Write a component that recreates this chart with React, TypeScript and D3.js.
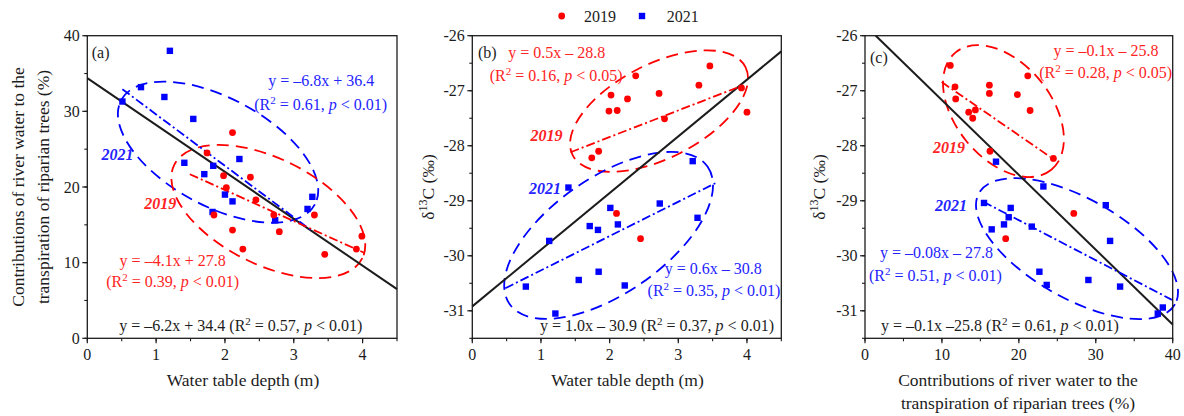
import React from 'react';
import * as d3 from 'd3';

const FONT = '"Liberation Serif", "Times New Roman", Times, serif';
const RED = '#ff0000';
const BLUE = '#0000ff';
const RED_T = '#ff2424';
const BLUE_T = '#2424ff';
const INK = '#1c1c1c';
const W = 1184;
const H = 416;

// ---------- Panel (a): water table depth (m) vs contribution of river water (%)
const aDepth2019 = [2.11, 1.74, 1.98, 2.37, 2.02, 2.45, 1.84, 2.71, 3.30, 2.11, 2.79, 2.26, 3.45, 3.99, 3.91];
const aContrib2019 = [27.2, 24.5, 21.5, 21.3, 19.9, 18.3, 16.3, 16.3, 16.3, 14.3, 14.1, 11.8, 11.1, 13.5, 11.8];
const aDepth2021 = [1.20, 0.78, 1.12, 0.51, 1.54, 1.41, 1.83, 2.21, 1.70, 2.00, 2.11, 1.82, 2.73, 3.27, 3.20];
const aContrib2021 = [38.0, 33.2, 31.9, 31.3, 29.0, 23.2, 22.8, 23.7, 21.7, 19.0, 18.1, 16.7, 15.6, 18.7, 17.1];

// ---------- Panel (b): water table depth (m) vs δ13C (‰)
const bDepth2019 = [2.38, 3.46, 3.30, 2.02, 2.26, 2.72, 1.99, 2.11, 2.80, 3.92, 4.00, 1.84, 1.74, 2.10, 2.45];
const bDelta2019 = [-26.73, -26.55, -26.90, -27.08, -27.15, -27.05, -27.37, -27.36, -27.51, -26.95, -27.39, -28.10, -28.22, -29.23, -29.69];
const bDepth2021 = [1.40, 2.01, 2.73, 1.71, 1.83, 2.12, 3.28, 1.12, 1.55, 1.84, 2.22, 0.78, 1.21, 3.21];
const bDelta2021 = [-28.76, -29.13, -29.05, -29.46, -29.53, -29.43, -29.31, -29.73, -30.44, -30.29, -30.54, -30.56, -31.05, -28.28];

// ---------- Panel (c): contribution of river water (%) vs δ13C (‰)
const cContrib2019 = [11.09, 21.16, 11.70, 16.17, 16.17, 19.81, 11.79, 21.46, 13.48, 14.35, 14.00, 16.25, 24.49, 27.14, 18.29];
const cDelta2019 = [-26.54, -26.73, -26.93, -26.90, -27.05, -27.07, -27.15, -27.36, -27.39, -27.35, -27.50, -28.10, -28.23, -29.23, -29.69];
const cContrib2021 = [23.19, 31.30, 15.47, 18.94, 18.68, 18.07, 21.68, 16.47, 31.86, 22.67, 29.04, 23.62, 33.16, 38.71, 38.06, 17.03];
const cDelta2021 = [-28.74, -29.08, -29.04, -29.13, -29.30, -29.43, -29.47, -29.52, -29.73, -30.29, -30.44, -30.53, -30.56, -30.94, -31.05, -28.29];

// ---------- Axis ticks
const depthTicks = [0, 1, 2, 3, 4];
const contribTicksY = [0, 10, 20, 30, 40];
const contribTicksX = [0, 10, 20, 30, 40];
const deltaTicks = [-26, -27, -28, -29, -30, -31];
const deltaTickLabels = ['-26', '-27', '-28', '-29', '-30', '-31'];

// ---------- Regression lines (slope, intercept, x-range)
const aFits = [
  { group: 'all', slope: -6.2, intercept: 34.4, from: 0, to: 4.5 },
  { group: '2021', slope: -6.8, intercept: 36.4, from: 0.51, to: 3.27 },
  { group: '2019', slope: -4.1, intercept: 27.8, from: 1.49, to: 4.03 },
];
const bFits = [
  { group: 'all', slope: 1.03, intercept: -30.92, from: 0, to: 4.5 },
  { group: '2019', slope: 0.484, intercept: -28.81, from: 1.43, to: 3.95 },
  { group: '2021', slope: 0.624, intercept: -30.89, from: 0.48, to: 3.54 },
];
const cFits = [
  { group: 'all', slope: -0.136, intercept: -25.81, from: 1.4, to: 40 },
  { group: '2019', slope: -0.0965, intercept: -25.88, from: 9.97, to: 24.06 },
  { group: '2021', slope: -0.0727, intercept: -27.90, from: 15.4, to: 39.9 },
];

// ---------- Confidence ellipses (centre in data units)
const aEllipses = [
  { group: '2021', cx: 1.90, cy: 24.6, rx: 110, ry: 54, angle: 28.3 },
  { group: '2019', cx: 2.63, cy: 16.76, rx: 105, ry: 53, angle: 26.4 },
];
const bEllipses = [
  { group: '2019', cx: 2.72, cy: -27.37, rx: 97, ry: 47, angle: -27 },
  { group: '2021', cx: 1.985, cy: -29.63, rx: 120.5, ry: 58, angle: -34.7 },
];
const cEllipses = [
  { group: '2019', cx: 18.0, cy: -27.37, rx: 75.7, ry: 47.7, angle: 50.8 },
  { group: '2021', cx: 27.56, cy: -29.87, rx: 112.7, ry: 49.7, angle: 29.6 },
];

// ---------- Annotations (positions in data units)
type Note = { kind: string; x: number; y: number; group?: string; text?: string; prefix?: string; r2?: string; p?: string };
const aNotes: Note[] = [
  { kind: 'tag', text: '(a)', x: 0.064, y: 37.08 },
  { kind: 'eq', group: '2021', text: 'y = –6.8x + 36.4', x: 3.40, y: 33.32 },
  { kind: 'r2', group: '2021', r2: '0.61', p: '0.01', x: 3.39, y: 30.24 },
  { kind: 'year', group: '2021', text: '2021', x: 0.44, y: 23.63 },
  { kind: 'year', group: '2019', text: '2019', x: 1.06, y: 17.03 },
  { kind: 'eq', group: '2019', text: 'y = –4.1x + 27.8', x: 1.24, y: 9.53 },
  { kind: 'r2', group: '2019', r2: '0.39', p: '0.01', x: 1.24, y: 6.72 },
  { kind: 'r2', group: 'all', prefix: 'y = –6.2x + 34.4 ', r2: '0.57', p: '0.01', x: 2.23, y: 0.94 },
];
const bNotes: Note[] = [
  { kind: 'tag', text: '(b)', x: 0.083, y: -26.40 },
  { kind: 'eq', group: '2019', text: 'y = 0.5x – 28.8', x: 1.23, y: -26.40 },
  { kind: 'r2', group: '2019', r2: '0.16', p: '0.05', x: 1.22, y: -26.83 },
  { kind: 'year', group: '2019', text: '2019', x: 1.08, y: -27.92 },
  { kind: 'year', group: '2021', text: '2021', x: 1.06, y: -28.87 },
  { kind: 'eq', group: '2021', text: 'y = 0.6x – 30.8', x: 3.51, y: -30.34 },
  { kind: 'r2', group: '2021', r2: '0.35', p: '0.01', x: 3.52, y: -30.74 },
  { kind: 'r2', group: 'all', prefix: 'y = 1.0x – 30.9 ', r2: '0.37', p: '0.01', x: 2.69, y: -31.37 },
];
const cNotes: Note[] = [
  { kind: 'tag', text: '(c)', x: 0.65, y: -26.49 },
  { kind: 'eq', group: '2019', text: 'y = –0.1x – 25.8', x: 31.33, y: -26.37 },
  { kind: 'r2', group: '2019', r2: '0.28', p: '0.05', x: 31.29, y: -26.77 },
  { kind: 'year', group: '2019', text: '2019', x: 10.92, y: -28.13 },
  { kind: 'year', group: '2021', text: '2021', x: 11.18, y: -29.19 },
  { kind: 'eq', group: '2021', text: 'y = –0.08x – 27.8', x: 9.29, y: -30.04 },
  { kind: 'r2', group: '2021', r2: '0.51', p: '0.01', x: 9.16, y: -30.46 },
  { kind: 'r2', group: 'all', prefix: 'y = –0.1x –25.8 ', r2: '0.61', p: '0.01', x: 17.55, y: -31.37 },
];

const lineColor = (g: string) => (g === '2019' ? RED : g === '2021' ? BLUE : INK);
const textColor = (g?: string) => (g === '2019' ? RED_T : g === '2021' ? BLUE_T : INK);

type PanelProps = {
  box: { left: number; right: number; top: number; bottom: number };
  xDomain: [number, number];
  yDomain: [number, number];
  xTicks: number[];
  xTickLabels: string[];
  xMinorStep: number;
  yTicks: number[];
  yTickLabels: string[];
  yMinorStep: number;
  x2019: number[]; y2019: number[];
  x2021: number[]; y2021: number[];
  fits: typeof aFits;
  ellipses: typeof aEllipses;
  notes: Note[];
};

function Panel(props: PanelProps) {
  const { box, xDomain, yDomain } = props;
  const x = d3.scaleLinear().domain(xDomain).range([box.left, box.right]);
  const y = d3.scaleLinear().domain(yDomain).range([box.bottom, box.top]);
  const xMinor = d3.range(xDomain[0], xDomain[1] + 1e-9, props.xMinorStep);
  const yMinor = d3.range(yDomain[0], yDomain[1] + 1e-9, props.yMinorStep);
  const line = d3.line<number>().x((d) => d).y((d) => d);

  return (
    <g>
      {/* ellipses */}
      {props.ellipses.map((e, i) => (
        <ellipse
          key={'e' + i}
          cx={x(e.cx)}
          cy={y(e.cy)}
          rx={e.rx}
          ry={e.ry}
          transform={`rotate(${e.angle} ${x(e.cx)} ${y(e.cy)})`}
          fill="none"
          stroke={lineColor(e.group)}
          strokeWidth={1.8}
          strokeDasharray="12 7"
        />
      ))}
      {/* fits */}
      {props.fits.map((f, i) => {
        const p0: [number, number] = [x(f.from), y(f.slope * f.from + f.intercept)];
        const p1: [number, number] = [x(f.to), y(f.slope * f.to + f.intercept)];
        const path = d3.line()([p0, p1]) || '';
        return (
          <path
            key={'f' + i}
            d={path}
            fill="none"
            stroke={lineColor(f.group)}
            strokeWidth={f.group === 'all' ? 2 : 1.8}
            strokeDasharray={f.group === 'all' ? undefined : '9 3 2 3'}
          />
        );
      })}
      {/* points: 2021 squares then 2019 dots */}
      {props.x2021.map((v, i) => (
        <rect key={'s' + i} x={x(v) - 3.2} y={y(props.y2021[i]) - 3.2} width={6.4} height={6.4} fill={BLUE} />
      ))}
      {props.x2019.map((v, i) => (
        <circle key={'c' + i} cx={x(v)} cy={y(props.y2019[i])} r={3.4} fill={RED} />
      ))}
      {/* frame */}
      <rect
        x={box.left}
        y={box.top}
        width={box.right - box.left}
        height={box.bottom - box.top}
        fill="none"
        stroke={INK}
        strokeWidth={1.3}
      />
      {/* x ticks */}
      {xMinor.map((v, i) => (
        <line key={'xm' + i} x1={x(v)} x2={x(v)} y1={box.bottom} y2={box.bottom + 3} stroke={INK} strokeWidth={1.1} />
      ))}
      {props.xTicks.map((v, i) => (
        <g key={'xt' + i}>
          <line x1={x(v)} x2={x(v)} y1={box.bottom} y2={box.bottom + 5} stroke={INK} strokeWidth={1.2} />
          <text x={x(v)} y={box.bottom + 21.5} textAnchor="middle" fontSize={16} fill={INK}>
            {props.xTickLabels[i]}
          </text>
        </g>
      ))}
      {/* y ticks */}
      {yMinor.map((v, i) => (
        <line key={'ym' + i} x1={box.left - 3} x2={box.left} y1={y(v)} y2={y(v)} stroke={INK} strokeWidth={1.1} />
      ))}
      {props.yTicks.map((v, i) => (
        <g key={'yt' + i}>
          <line x1={box.left - 5} x2={box.left} y1={y(v)} y2={y(v)} stroke={INK} strokeWidth={1.2} />
          <text x={box.left - 7.5} y={y(v) + 5.5} textAnchor="end" fontSize={16} fill={INK}>
            {props.yTickLabels[i]}
          </text>
        </g>
      ))}
      {/* notes */}
      {props.notes.map((n, i) => {
        const px = x(n.x);
        const py = y(n.y);
        if (n.kind === 'tag')
          return (
            <text key={'n' + i} x={px} y={py} fontSize={16} fill={INK}>
              {n.text}
            </text>
          );
        if (n.kind === 'year')
          return (
            <text key={'n' + i} x={px} y={py} fontSize={16} fill={textColor(n.group)} fontWeight="bold" fontStyle="italic" textAnchor="middle">
              {n.text}
            </text>
          );
        if (n.kind === 'eq')
          return (
            <text key={'n' + i} x={px} y={py} fontSize={16} fill={textColor(n.group)} textAnchor="middle">
              {n.text}
            </text>
          );
        return (
          <text key={'n' + i} x={px} y={py} fontSize={16} fill={textColor(n.group)} textAnchor="middle">
            <tspan>{(n.prefix || '') + '(R'}</tspan>
            <tspan dy={-6} fontSize={11}>2</tspan>
            <tspan dy={6}>{` = ${n.r2}, `}</tspan>
            <tspan fontStyle="italic">p</tspan>
            <tspan>{` < ${n.p})`}</tspan>
          </text>
        );
      })}
    </g>
  );
}

function DeltaTitle({ bx, cy }: { bx: number; cy: number }) {
  return (
    <text transform={`translate(${bx},${cy}) rotate(-90)`} textAnchor="middle" fontSize={17.5} fill={INK}>
      <tspan>δ</tspan>
      <tspan dy={-7} fontSize={12}>13</tspan>
      <tspan dy={7}>C (‰)</tspan>
    </text>
  );
}

export default function App() {
  const boxA = { left: 87.3, right: 397, top: 35.7, bottom: 338.3 };
  const boxB = { left: 472.3, right: 781.3, top: 35.7, bottom: 338.3 };
  const boxC = { left: 865, right: 1172.7, top: 35.7, bottom: 338.3 };
  return (
    <svg
      width={W}
      height={H}
      viewBox={`0 0 ${W} ${H}`}
      style={{ position: 'absolute', left: 0, top: 0, background: '#fff' }}
      fontFamily={FONT}
    >
      <rect width={W} height={H} fill="#fff" />
      {/* legend */}
      <circle cx={561.7} cy={16} r={3.4} fill={RED} />
      <text x={584} y={21.5} fontSize={16} fill={INK}>2019</text>
      <rect x={642 - 3.2} y={16 - 3.2} width={6.4} height={6.4} fill={BLUE} />
      <text x={666.7} y={21.5} fontSize={16} fill={INK}>2021</text>

      <Panel
        box={boxA}
        xDomain={[0, 4.5]}
        yDomain={[0, 40]}
        xTicks={depthTicks}
        xTickLabels={depthTicks.map(String)}
        xMinorStep={0.5}
        yTicks={contribTicksY}
        yTickLabels={contribTicksY.map(String)}
        yMinorStep={5}
        x2019={aDepth2019}
        y2019={aContrib2019}
        x2021={aDepth2021}
        y2021={aContrib2021}
        fits={aFits}
        ellipses={aEllipses}
        notes={aNotes}
      />
      <Panel
        box={boxB}
        xDomain={[0, 4.5]}
        yDomain={[-31.5, -26]}
        xTicks={depthTicks}
        xTickLabels={depthTicks.map(String)}
        xMinorStep={0.5}
        yTicks={deltaTicks}
        yTickLabels={deltaTickLabels}
        yMinorStep={0.5}
        x2019={bDepth2019}
        y2019={bDelta2019}
        x2021={bDepth2021}
        y2021={bDelta2021}
        fits={bFits}
        ellipses={bEllipses}
        notes={bNotes}
      />
      <Panel
        box={boxC}
        xDomain={[0, 40]}
        yDomain={[-31.5, -26]}
        xTicks={contribTicksX}
        xTickLabels={contribTicksX.map(String)}
        xMinorStep={5}
        yTicks={deltaTicks}
        yTickLabels={deltaTickLabels}
        yMinorStep={0.5}
        x2019={cContrib2019}
        y2019={cDelta2019}
        x2021={cContrib2021}
        y2021={cDelta2021}
        fits={cFits}
        ellipses={cEllipses}
        notes={cNotes}
      />

      {/* axis titles */}
      <text transform="translate(24,187) rotate(-90)" textAnchor="middle" fontSize={17.5} fill={INK}>
        Contributions of river water to the
      </text>
      <text transform="translate(48.5,187) rotate(-90)" textAnchor="middle" fontSize={17.5} fill={INK}>
        transpiration of riparian trees (%)
      </text>
      <text x={243} y={386} textAnchor="middle" fontSize={17.5} fill={INK}>Water table depth (m)</text>

      <DeltaTitle bx={433.5} cy={187} />
      <text x={627.5} y={386} textAnchor="middle" fontSize={17.5} fill={INK}>Water table depth (m)</text>

      <DeltaTitle bx={824.5} cy={187} />
      <text x={1018} y={386} textAnchor="middle" fontSize={17.5} fill={INK}>Contributions of river water to the</text>
      <text x={1018} y={408.5} textAnchor="middle" fontSize={17.5} fill={INK}>transpiration of riparian trees (%)</text>
    </svg>
  );
}
